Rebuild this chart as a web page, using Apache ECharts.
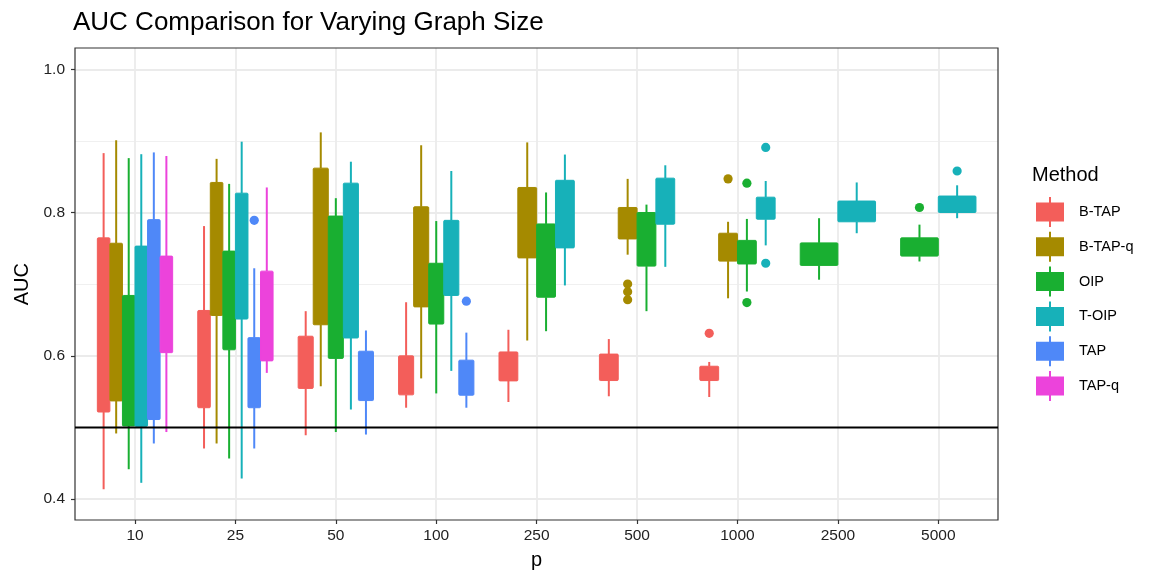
<!DOCTYPE html>
<html>
<head>
<meta charset="utf-8">
<script src="https://cdn.jsdelivr.net/npm/echarts@6/dist/echarts.min.js"></script>
<style>
  html, body { margin: 0; padding: 0; background: #ffffff; }
  #chart { width: 1149px; height: 575px; }
</style>
</head>
<body>
<div id="chart"></div>
<script>
// ---------- data ----------
const pLabels = ['10', '25', '50', '100', '250', '500', '1000', '2500', '5000'];
const methods = ['B-TAP', 'B-TAP-q', 'OIP', 'T-OIP', 'TAP', 'TAP-q'];
const methodColors = ['#F35E5A', '#A58A00', '#19AF31', '#17B1B9', '#4F88F8', '#EC43DB'];
const yTicks = [0.4, 0.6, 0.8, 1.0];
const referenceLine = 0.5;

// per category: [lower whisker, Q1, Q3, upper whisker] (null = method not run)
const bTapBoxes = [
  [0.413, 0.521, 0.7645, 0.883], [0.470, 0.527, 0.663, 0.781], [0.4885, 0.554, 0.627, 0.662],
  [0.527, 0.545, 0.5995, 0.6745], [0.535, 0.5645, 0.605, 0.636], [0.543, 0.565, 0.602, 0.623],
  [0.542, 0.565, 0.585, 0.591], null, null
];
const bTapQBoxes = [
  [0.491, 0.5365, 0.757, 0.901], [0.477, 0.656, 0.842, 0.875], [0.557, 0.643, 0.862, 0.912],
  [0.568, 0.668, 0.808, 0.894], [0.621, 0.7365, 0.835, 0.898], [0.741, 0.763, 0.807, 0.847],
  [0.680, 0.732, 0.771, 0.787], null, null
];
const oipBoxes = [
  [0.441, 0.5015, 0.684, 0.876], [0.456, 0.608, 0.746, 0.840], [0.493, 0.596, 0.795, 0.820],
  [0.547, 0.644, 0.729, 0.788], [0.634, 0.6815, 0.784, 0.828], [0.662, 0.725, 0.800, 0.811],
  [0.6895, 0.728, 0.761, 0.791], [0.706, 0.726, 0.7575, 0.792], [0.7315, 0.739, 0.7645, 0.783]
];
const tOipBoxes = [
  [0.422, 0.501, 0.753, 0.8815], [0.428, 0.651, 0.827, 0.899], [0.5245, 0.6245, 0.841, 0.871],
  [0.5785, 0.684, 0.789, 0.858], [0.698, 0.7505, 0.845, 0.881], [0.724, 0.7836, 0.848, 0.866],
  [0.754, 0.7906, 0.8214, 0.844], [0.771, 0.787, 0.816, 0.842], [0.792, 0.800, 0.823, 0.838]
];
const tapBoxes = [
  [0.477, 0.5105, 0.790, 0.884], [0.470, 0.527, 0.625, 0.722], [0.4895, 0.537, 0.606, 0.635],
  [0.527, 0.5445, 0.5935, 0.632], null, null, null, null, null
];
const tapQBoxes = [
  [0.493, 0.604, 0.739, 0.879], [0.5757, 0.5925, 0.718, 0.835], null, null, null, null, null, null, null
];

// outliers: [category index, AUC]
const bTapOutliers = [[6, 0.631]];
const bTapQOutliers = [[5, 0.700], [5, 0.689], [5, 0.678], [6, 0.847]];
const oipOutliers = [[6, 0.841], [6, 0.674], [8, 0.807]];
const tOipOutliers = [[6, 0.891], [6, 0.729], [8, 0.858]];
const tapOutliers = [[1, 0.789], [3, 0.676]];
const tapQOutliers = [];

const allBoxes = [bTapBoxes, bTapQBoxes, oipBoxes, tOipBoxes, tapBoxes, tapQBoxes];
const allOutliers = [bTapOutliers, bTapQOutliers, oipOutliers, tOipOutliers, tapOutliers, tapQOutliers];

// ---------- layout / style ----------
const BOX_WIDTH = 0.75;      // fraction of category spacing used by the dodged group
const FONT = '"Liberation Sans", Arial, Helvetica, sans-serif';
const legendIcon = 'path://M0,5.5 L28,5.5 L28,24.5 L0,24.5 Z M13,0 L15,0 L15,30 L13,30 Z';

function dodge(api, mi, ci) {
  const present = [];
  allBoxes.forEach((arr, k) => { if (arr[ci]) present.push(k); });
  const n = present.length;
  const slot = present.indexOf(mi);
  const c0 = api.coord([0, 0.5])[0];
  const c1 = api.coord([1, 0.5])[0];
  const band = c1 - c0;
  const center = api.coord([ci, 0.5])[0];
  const total = band * BOX_WIDTH;
  const w = total / n;
  return { x: center - total / 2 + w * (slot + 0.5), w: w };
}

const series = [];
methods.forEach((name, mi) => {
  const color = methodColors[mi];
  const boxData = [];
  allBoxes[mi].forEach((b, ci) => { if (b) boxData.push([ci, b[0], b[1], b[2], b[3]]); });
  series.push({
    type: 'custom',
    name: name,
    xAxisIndex: 2, yAxisIndex: 2,
    itemStyle: { color: color },
    encode: { x: 0, y: [1, 2, 3, 4] },
    data: boxData,
    z: 3,
    renderItem: function (params, api) {
      const ci = api.value(0);
      const d = dodge(api, mi, ci);
      const yLo = api.coord([ci, api.value(1)])[1];
      const yQ1 = api.coord([ci, api.value(2)])[1];
      const yQ3 = api.coord([ci, api.value(3)])[1];
      const yHi = api.coord([ci, api.value(4)])[1];
      return {
        type: 'group',
        children: [
          { type: 'line', shape: { x1: d.x, y1: yHi, x2: d.x, y2: yQ3 },
            style: { stroke: color, lineWidth: 2 } },
          { type: 'line', shape: { x1: d.x, y1: yQ1, x2: d.x, y2: yLo },
            style: { stroke: color, lineWidth: 2 } },
          { type: 'rect', shape: { x: d.x - d.w / 2, y: yQ3, width: d.w, height: yQ1 - yQ3, r: 1 },
            style: { fill: color, stroke: color, lineWidth: 1 } }
        ]
      };
    }
  });
  series.push({
    type: 'custom',
    name: name,
    xAxisIndex: 2, yAxisIndex: 2,
    itemStyle: { color: color },
    encode: { x: 0, y: 1 },
    data: allOutliers[mi],
    z: 3,
    renderItem: function (params, api) {
      const ci = api.value(0);
      const d = dodge(api, mi, ci);
      const y = api.coord([ci, api.value(1)])[1];
      return { type: 'circle', shape: { cx: d.x, cy: y, r: 4.6 }, style: { fill: color } };
    }
  });
});

// reference line at AUC = 0.5 across the whole panel
series.push({
  type: 'custom',
  name: 'ref',
  xAxisIndex: 1, yAxisIndex: 1,
  data: [[0, referenceLine]],
  z: 5,
  silent: true,
  renderItem: function (params, api) {
    const cs = params.coordSys;
    const y = api.coord([0, api.value(1)])[1];
    return { type: 'line', shape: { x1: cs.x, y1: y, x2: cs.x + cs.width, y2: y },
             style: { stroke: '#000000', lineWidth: 2 } };
  }
});

const option = {
  backgroundColor: '#ffffff',
  animation: false,
  textStyle: { fontFamily: FONT },
  title: [
    { text: 'AUC Comparison for Varying Graph Size', left: 73, top: 10, padding: 0,
      textStyle: { fontFamily: FONT, fontSize: 26, fontWeight: 'normal', color: '#000000' } },
    { text: 'Method', left: 1032, top: 165, padding: 0,
      textStyle: { fontFamily: FONT, fontSize: 20, fontWeight: 'normal', color: '#000000' } }
  ],
  legend: {
    orient: 'vertical',
    left: 1036, top: 197,
    padding: 0,
    itemWidth: 28, itemHeight: 30, itemGap: 4.8,
    selectedMode: false,
    textStyle: { fontFamily: FONT, fontSize: 14.5, color: '#000000', padding: [0, 0, 0, 10] },
    data: methods.map((m, i) => ({ name: m, icon: legendIcon, itemStyle: { color: methodColors[i] } }))
  },
  grid: [
    // panel border
    { left: 75, right: 151, top: 48, bottom: 55, show: true, borderColor: '#333333', borderWidth: 1.2,
      backgroundColor: 'transparent', containLabel: false, z: 4 },
    // y scale (0.4..1.0) across the full panel width
    { left: 75, right: 151, top: 69.3, bottom: 76, containLabel: false },
    // x scale: category centres from first to last gridline, full panel height
    { left: 135, right: 210.7, top: 48, bottom: 55, containLabel: false }
  ],
  xAxis: [
    { gridIndex: 0, type: 'value', show: false, min: 0, max: 1 },
    { gridIndex: 1, type: 'value', show: false, min: 0, max: 1 },
    { gridIndex: 2, type: 'category', data: pLabels, boundaryGap: false,
      name: 'p', nameLocation: 'middle', nameGap: 30,
      nameTextStyle: { fontFamily: FONT, fontSize: 20, color: '#000000' },
      axisLine: { show: false },
      axisTick: { show: true, length: 4, alignWithLabel: true, lineStyle: { color: '#333333', width: 1.2 } },
      axisLabel: { margin: 8, fontFamily: FONT, fontSize: 15.5, color: '#222222', interval: 0 },
      splitLine: { show: true, interval: 0, lineStyle: { color: '#EBEBEB', width: 1.8 } } }
  ],
  yAxis: [
    { gridIndex: 0, type: 'value', show: false, min: 0, max: 1 },
    { gridIndex: 1, type: 'value', min: yTicks[0], max: yTicks[yTicks.length - 1], interval: 0.2,
      name: 'AUC', nameLocation: 'middle', nameGap: 38,
      nameTextStyle: { fontFamily: FONT, fontSize: 20, color: '#000000' },
      axisLine: { show: false },
      axisTick: { show: true, length: 4, lineStyle: { color: '#333333', width: 1.2 } },
      axisLabel: { margin: 10, fontFamily: FONT, fontSize: 15.5, color: '#222222',
                   formatter: v => v.toFixed(1) },
      splitLine: { show: true, lineStyle: { color: '#EBEBEB', width: 1.8 } },
      minorTick: { show: false, splitNumber: 2 },
      minorSplitLine: { show: true, lineStyle: { color: '#F0F0F0', width: 1.2 } } },
    { gridIndex: 2, type: 'value', show: false, min: 0.37, max: 1.03, splitLine: { show: false } }
  ],
  series: series
};

const chart = echarts.init(document.getElementById('chart'), null, { renderer: 'canvas' });
chart.setOption(option);
</script>
</body>
</html>
